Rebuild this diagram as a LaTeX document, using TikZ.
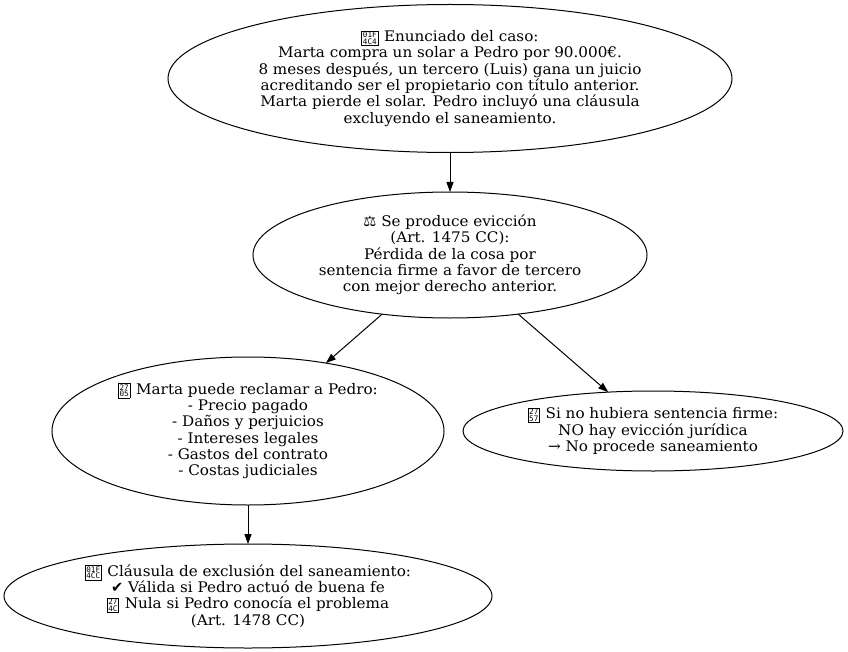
\documentclass[tikz,border=0pt]{standalone}
\usepackage{fontspec}
\setmainfont[FakeStretch=1.04]{DejaVu Serif}
\newfontfamily\symfont{DejaVu Sans}
\newfontfamily\hexfont{DejaVu Sans Mono}
\usetikzlibrary{shapes.geometric,arrows.meta}
\newcommand{\hexbox}[2]{\raisebox{-2.5bp}{\setlength{\fboxsep}{1bp}\setlength{\fboxrule}{0.5bp}\fbox{\vbox{\hexfont\fontsize{7.6bp}{6.4bp}\selectfont\hbox{\hss #1\hss}\hbox{\hss #2\hss}}}}\kern1bp\relax}
\tikzset{
  px/.style={x=1bp,y=-1bp},
  ell/.style={draw=black,line width=1bp,ellipse,inner sep=0pt,outer sep=0pt},
  txt/.style={align=center,inner sep=0pt,font=\fontsize{14.6bp}{16.3bp}\selectfont},
  edge/.style={draw=black,line width=1bp,-{Triangle[length=10bp,width=7bp]}}
}
\begin{document}
\begin{tikzpicture}[px]
\useasboundingbox (0,0) rectangle (848,652);
\node[ell,minimum width=564bp,minimum height=148bp,label={[txt]center:{\hexbox{01F}{4C4} Enunciado del caso:\\Marta compra un solar a Pedro por 90.000€.\\8 meses después, un tercero (Luis) gana un juicio\\acreditando ser el propietario con título anterior.\\Marta pierde el solar. Pedro incluyó una cláusula\\excluyendo el saneamiento.}}] (n1) at (450,78.5) {};
\node[ell,minimum width=394bp,minimum height=126bp,label={[txt]center:{{\symfont ⚖} Se produce evicción\\(Art. 1475 CC):\\Pérdida de la cosa por\\sentencia firme a favor de tercero\\con mejor derecho anterior.}}] (n2) at (450,255) {};
\node[ell,minimum width=392bp,minimum height=148bp,label={[txt]center:{\hexbox{27}{05} Marta puede reclamar a Pedro:\\- Precio pagado\\- Daños y perjuicios\\- Intereses legales\\- Gastos del contrato\\- Costas judiciales}}] (n3) at (248,431) {};
\node[ell,minimum width=380bp,minimum height=80bp,label={[txt]center:{\hexbox{27}{57} Si no hubiera sentencia firme:\\NO hay evicción jurídica\\→ No procede saneamiento}}] (n4) at (653,431) {};
\node[ell,minimum width=488bp,minimum height=104bp,label={[txt]center:{\hexbox{01F}{4CC} Cláusula de exclusión del saneamiento:\\{\symfont ✔} Válida si Pedro actuó de buena fe\\\hexbox{27}{4C} Nula si Pedro conocía el problema\\(Art. 1478 CC)}}] (n5) at (248,596) {};
\draw[edge] (n1) -- (n2);
\draw[edge] (n2) -- (n3);
\draw[edge] (n2) -- (n4);
\draw[edge] (n3) -- (n5);
\end{tikzpicture}
\end{document}
